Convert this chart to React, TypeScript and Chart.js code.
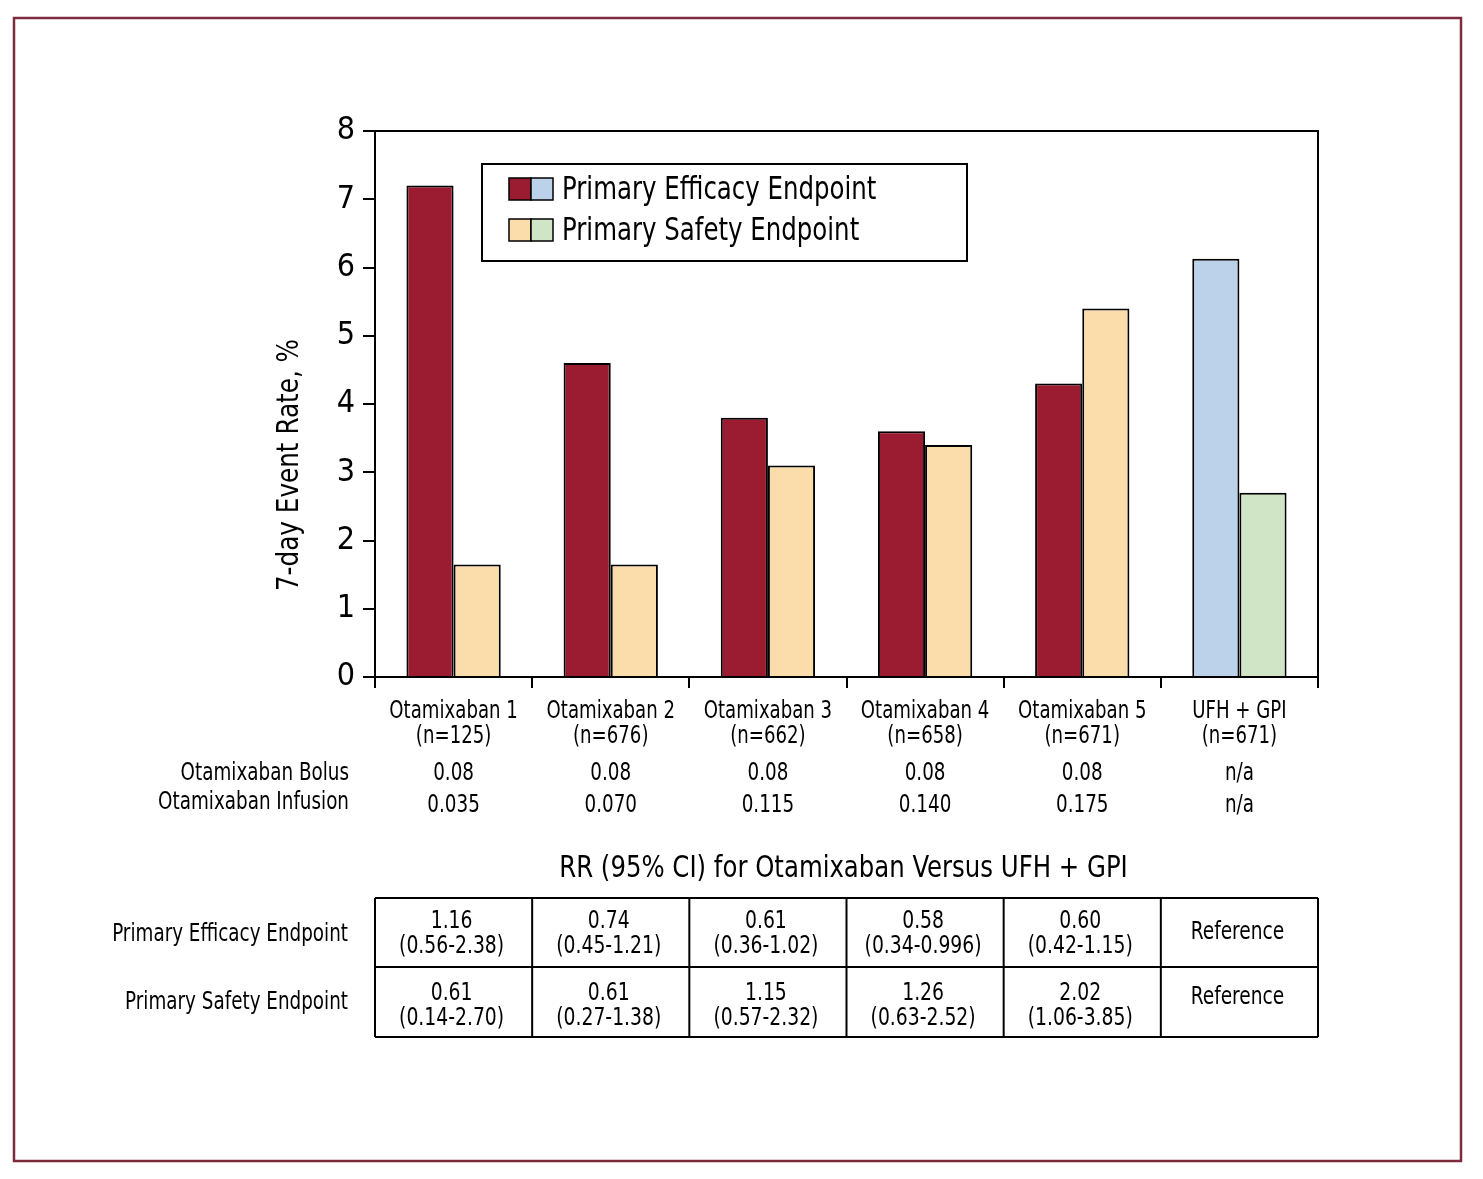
import React, { useEffect, useRef } from "react";
import { Chart, registerables } from "chart.js";
Chart.register(...registerables);

const FONT = '"Liberation Sans Narrow", "DejaVu Sans Condensed", "Arial Narrow", sans-serif';

const categories = [
  ["Otamixaban 1", "(n=125)"],
  ["Otamixaban 2", "(n=676)"],
  ["Otamixaban 3", "(n=662)"],
  ["Otamixaban 4", "(n=658)"],
  ["Otamixaban 5", "(n=671)"],
  ["UFH + GPI", "(n=671)"],
];
const efficacyValues = [7.2, 4.6, 3.8, 3.6, 4.3, 6.13];
const safetyValues = [1.65, 1.65, 3.1, 3.4, 5.4, 2.7];
const yTicks = [0, 1, 2, 3, 4, 5, 6, 7, 8];

const bolusLabel = "Otamixaban Bolus";
const infusionLabel = "Otamixaban Infusion";
const bolusValues = ["0.08", "0.08", "0.08", "0.08", "0.08", "n/a"];
const infusionValues = ["0.035", "0.070", "0.115", "0.140", "0.175", "n/a"];

const tableTitle = "RR (95% CI) for Otamixaban Versus UFH + GPI";
const rowLabels = ["Primary Efficacy Endpoint", "Primary Safety Endpoint"];
const rrEfficacy = [
  ["1.16", "(0.56-2.38)"],
  ["0.74", "(0.45-1.21)"],
  ["0.61", "(0.36-1.02)"],
  ["0.58", "(0.34-0.996)"],
  ["0.60", "(0.42-1.15)"],
  ["Reference"],
];
const rrSafety = [
  ["0.61", "(0.14-2.70)"],
  ["0.61", "(0.27-1.38)"],
  ["1.15", "(0.57-2.32)"],
  ["1.26", "(0.63-2.52)"],
  ["2.02", "(1.06-3.85)"],
  ["Reference"],
];

const legendLabels = ["Primary Efficacy Endpoint", "Primary Safety Endpoint"];
const yTitle = "7-day Event Rate, %";

const RED = "#9b1c31";
const PEACH = "#fbdcab";
const BLUE = "#bcd2ea";
const GREEN = "#d0e5c6";
const FRAME = "#7d2a3c";

const efficacyColors = [RED, RED, RED, RED, RED, BLUE];
const safetyColors = [PEACH, PEACH, PEACH, PEACH, PEACH, GREEN];

function txt(
  ctx: CanvasRenderingContext2D,
  s: string,
  x: number,
  y: number,
  size: number,
  align: CanvasTextAlign,
  sx = 0.85
) {
  ctx.save();
  ctx.font = `${size}px ${FONT}`;
  ctx.textAlign = align;
  ctx.textBaseline = "middle";
  ctx.fillStyle = "#000";
  ctx.translate(x, y);
  ctx.scale(sx, 1);
  ctx.fillText(s, 0, 0);
  ctx.restore();
}

const extrasPlugin = {
  id: "extras",
  afterDraw(chart: any) {
    const ctx = chart.ctx as CanvasRenderingContext2D;
    const ca = chart.chartArea;
    const xs = chart.scales.x;
    const n = categories.length;
    const cw = (ca.right - ca.left) / n;
    const centers = categories.map((_, i) => xs.getPixelForValue(i));
    ctx.save();

    // outer frame
    ctx.strokeStyle = FRAME;
    ctx.lineWidth = 2.5;
    ctx.strokeRect(14, 18, 1447, 1143);

    // plot box top/right
    ctx.strokeStyle = "#000";
    ctx.lineWidth = 2;
    ctx.beginPath();
    ctx.moveTo(ca.left, ca.top);
    ctx.lineTo(ca.right, ca.top);
    ctx.lineTo(ca.right, ca.bottom);
    ctx.stroke();

    // legend
    const lx = ca.left + 107;
    const ly = ca.top + 33;
    ctx.lineWidth = 2;
    ctx.strokeRect(lx, ly, 485, 97);
    const sw = 22;
    const rows = [
      [RED, BLUE],
      [PEACH, GREEN],
    ];
    rows.forEach((cols, r) => {
      const sy = ly + 14 + r * 41;
      cols.forEach((c, k) => {
        const sx = lx + 27 + k * sw;
        ctx.fillStyle = c;
        ctx.fillRect(sx, sy, sw, sw);
        ctx.lineWidth = 1.5;
        ctx.strokeStyle = "#000";
        ctx.strokeRect(sx, sy, sw, sw);
      });
      txt(ctx, legendLabels[r], lx + 80, sy + sw / 2 + 2, 32, "left", 0.85);
    });

    // y title
    ctx.save();
    ctx.translate(290, 465);
    ctx.rotate(-Math.PI / 2);
    txt(ctx, yTitle, 0, 0, 30, "center", 0.915);
    ctx.restore();

    // category labels under x axis
    centers.forEach((cx, i) => {
      txt(ctx, categories[i][0], cx, 712, 24, "center", 0.84);
      txt(ctx, categories[i][1], cx, 737, 24, "center", 0.84);
    });

    // bolus / infusion
    txt(ctx, bolusLabel, ca.left - 26, 774, 24, "right");
    txt(ctx, infusionLabel, ca.left - 26, 803, 24, "right");
    centers.forEach((cx, i) => {
      txt(ctx, bolusValues[i], cx, 774, 24, "center");
      txt(ctx, infusionValues[i], cx, 806, 24, "center");
    });

    // table title
    txt(ctx, tableTitle, (ca.left + ca.right) / 2 - 3, 869, 31, "center", 0.875);

    // table grid
    const tTop = 898;
    const tMid = 967;
    const tBot = 1037;
    ctx.lineWidth = 2;
    ctx.strokeStyle = "#000";
    ctx.beginPath();
    [tTop, tMid, tBot].forEach((y) => {
      ctx.moveTo(ca.left, y);
      ctx.lineTo(ca.right, y);
    });
    for (let i = 0; i <= n; i++) {
      const x = ca.left + i * cw;
      ctx.moveTo(x, tTop);
      ctx.lineTo(x, tBot);
    }
    ctx.stroke();

    // row labels
    txt(ctx, rowLabels[0], ca.left - 27, 935, 24, "right");
    txt(ctx, rowLabels[1], ca.left - 27, 1003, 24, "right");

    // cells
    const drawCell = (lines: string[], cx: number, top: number, single: number) => {
      if (lines.length === 1) {
        txt(ctx, lines[0], cx, single, 24, "center", 0.86);
      } else {
        txt(ctx, lines[0], cx, top, 24, "center", 0.87);
        txt(ctx, lines[1], cx, top + 25, 24, "center", 0.87);
      }
    };
    centers.forEach((cx, i) => {
      drawCell(rrEfficacy[i], cx - 2, 922, 933);
      drawCell(rrSafety[i], cx - 2, 994, 998);
    });

    ctx.restore();
  },
};

export default function App() {
  const ref = useRef<HTMLCanvasElement>(null);
  useEffect(() => {
    document.body.style.margin = "0";
    const canvas = ref.current!;
    Chart.defaults.font.family = FONT;
    const chart = new Chart(canvas, {
      type: "bar",
      data: {
        labels: categories,
        datasets: [
          {
            label: legendLabels[0],
            data: efficacyValues,
            backgroundColor: efficacyColors,
            borderColor: "#000",
            borderWidth: 2,
            categoryPercentage: 0.6,
            barPercentage: 1.0,
          },
          {
            label: legendLabels[1],
            data: safetyValues,
            backgroundColor: safetyColors,
            borderColor: "#000",
            borderWidth: 2,
            categoryPercentage: 0.6,
            barPercentage: 1.0,
          },
        ],
      },
      options: {
        animation: false,
        responsive: false,
        devicePixelRatio: 1,
        layout: { padding: { left: 0, top: 131, right: 165, bottom: 0 } },
        plugins: {
          legend: { display: false },
          tooltip: { enabled: false },
          title: { display: false },
        },
        scales: {
          x: {
            type: "category",
            offset: true,
            grid: {
              offset: true,
              drawOnChartArea: false,
              drawTicks: true,
              tickLength: 11,
              color: "#000",
              lineWidth: 2,
            },
            border: { display: true, color: "#000", width: 2 },
            ticks: {
              display: false,
              autoSkip: false,
            },
            afterFit: (scale: any) => {
              scale.height = 502;
            },
          },
          y: {
            min: 0,
            max: 8,
            afterBuildTicks: (scale: any) => {
              scale.ticks = yTicks.map((v) => ({ value: v }));
            },
            grid: {
              drawOnChartArea: false,
              drawTicks: true,
              tickLength: 12,
              color: "#000",
              lineWidth: 2,
            },
            border: { display: true, color: "#000", width: 2 },
            ticks: {
              color: "#000",
              font: { size: 32 },
              padding: 8,
            },
            afterFit: (scale: any) => {
              scale.width = 375;
            },
          },
        },
      },
      plugins: [extrasPlugin],
    } as any);
    return () => chart.destroy();
  }, []);
  return (
    <div style={{ width: 1483, height: 1179, overflow: "hidden", background: "#fff" }}>
      <canvas ref={ref} width={1483} height={1179} style={{ display: "block" }} />
    </div>
  );
}
